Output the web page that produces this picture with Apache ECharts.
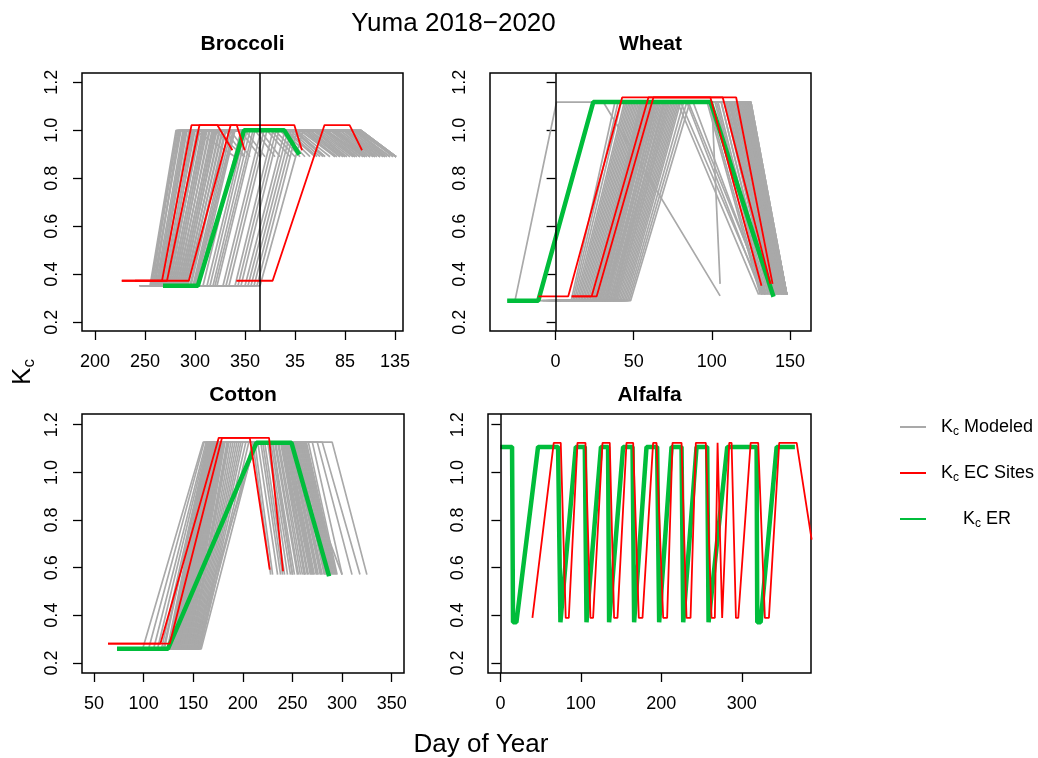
<!DOCTYPE html>
<html><head><meta charset="utf-8">
<script src="https://cdn.jsdelivr.net/npm/echarts@6/dist/echarts.min.js"></script>
<style>html,body{margin:0;padding:0;background:#fff}#c{width:1038px;height:758px}</style>
</head><body><div id="c"></div>
<script>
const FONT = '"Liberation Sans", Arial, Helvetica, sans-serif';

// ---------- Broccoli (x = continuous day; >365 is next year) ----------
const broccoliTicks = [200, 250, 300, 350, 400, 450, 500];
const broccoliKcModeled = [0.352, 1.0, 0.89];        // ini, mid, end
// [plant, dev start, mid start, late start, harvest]
const broccoliModeled = [
  [244,255,281,300,340],[246,260,284,320,349],[245,256,282,330,350],[245,258,286,345,365],
  [248,262,290,360,380],[250,265,292,372,395],[250,266,295,380,405],[252,268,298,390,420],
  [255,270,300,395,425],[255,272,303,400,430],[258,274,305,405,440],[258,276,308,410,445],
  [260,278,310,415,450],[262,280,312,420,455],[262,282,315,425,460],[265,284,318,430,465],
  [265,286,320,435,470],[268,288,322,440,475],[270,290,325,445,480],[270,292,328,450,485],
  [272,295,330,455,490],[275,298,334,460,495],[275,300,338,466,501],[278,303,340,462,501],
  [280,308,346,440,470],[282,312,350,420,450],[285,318,355,425,460],[288,322,360,400,430],
  [290,328,366,410,440],[292,334,372,430,470],[295,340,378,445,480],[298,346,384,455,490],
  [300,350,390,460,501],[305,356,396,450,485],[310,362,402,466,501],[315,365,408,440,475],
  [247,257,283,335,355],[249,259,285,350,370],[251,261,288,365,385],[253,263,289,376,400],
  [254,264,291,385,410],[256,267,294,388,415],[257,269,297,392,422],[259,271,299,398,428],
  [260,273,302,402,435],[261,275,304,407,442],[263,277,307,412,448],[264,279,309,418,452],
  [266,281,311,422,458],[267,283,314,428,462],[269,285,317,432,468],[271,287,319,438,472],
  [272,289,321,442,478],[273,291,324,448,482],[274,293,327,452,488],[276,296,331,458,492],
  [277,299,336,464,498],[279,301,339,466,501],[284,315,352,430,465],[287,320,358,415,445],
  [291,331,369,436,475],[296,343,381,450,485],[302,353,393,458,495],[308,359,399,466,501]
];
const broccoliEC = [
  [[226.8,0.373],[267,0.373],[296.5,1.022],[322.3,1.022],[337.4,0.917]],
  [[226.8,0.373],[272,0.373],[304.5,1.022],[399.3,1.022],[407,0.917]],
  [[240,0.373],[293.8,0.373],[335.7,1.022],[341.7,1.022],[349.7,0.917]],
  [[341.4,0.373],[377.6,0.373],[429.5,1.022],[454.6,1.022],[467,0.917]]
];
const broccoliER = [[268,0.352],[302.8,0.352],[349,1.0],[389.3,1.0],[404.3,0.899]];

// ---------- Wheat ----------
const wheatTicks = [0, 50, 100, 150];
const wheatKcModeled = [0.29, 1.118, 0.315];
const wheatModeled = [
  [-10,10,38,97,131],[-8,12,42,100,133],[-5,14,45,104,135],[-3,16,47,108,137],
  [0,18,49,110,138],[0,20,51,112,139],[2,22,53,113,140],[3,24,55,114,141],
  [5,25,56,115,142],[5,27,58,116,142],[6,28,60,117,143],[8,30,62,118,144],
  [8,31,63,119,144],[10,32,65,120,145],[10,34,66,120,145],[12,35,68,121,146],
  [12,36,70,122,146],[14,38,72,122,147],[15,39,74,123,147],[15,40,75,123,148],
  [16,42,77,124,148],[18,44,79,124,148],[18,46,82,125,148],[20,48,86,125,148],
  [4,26,57,102,134],[6,29,61,106,136],[9,33,64,109,139],[11,37,69,111,141],
  [10,30,60,80,133],[12,35,70,85,135],[10,32,62,78,130],[14,38,72,88,134],[8,28,58,84,132],
  [-9,11,40,98,132],[-6,13,44,103,134],[-4,15,46,106,136],[-1,17,48,109,137],
  [1,19,50,111,138],[1,21,52,112,139],[3,23,54,113,140],[4,24,55,115,141],
  [6,26,57,116,142],[7,28,59,117,143],[7,29,61,118,143],[9,31,63,119,144],
  [9,33,64,120,145],[11,33,66,121,145],[13,35,67,121,146],[13,37,69,122,146],
  [14,37,71,122,147],[16,39,73,123,147],[17,41,76,123,148],[17,43,78,124,148],
  [19,45,80,124,148],[20,47,84,125,148]
];
const wheatModeledOther = [
  [[-31,0.29],[-26,0.29],[0.6,1.118],[30.5,1.118],[105.3,0.31]],
  [[5,0.29],[25,0.29],[55,1.118],[100,1.118],[105.3,0.36]]
];
const wheatEC = [
  [[-11,0.308],[8.1,0.308],[42.6,1.137],[99.1,1.137],[131.8,0.352]],
  [[10.3,0.308],[23.1,0.308],[59.4,1.137],[107,1.137],[137.5,0.36]],
  [[10.3,0.308],[26.3,0.308],[62.6,1.137],[115.6,1.137],[138.9,0.36]]
];
const wheatER = [[-31,0.29],[-11.1,0.29],[24.1,1.118],[99.2,1.118],[139.5,0.306]];

// ---------- Cotton ----------
const cottonTicks = [50, 100, 150, 200, 250, 300, 350];
const cottonKcModeled = [0.259, 1.127, 0.571];
const cottonModeled = [
  [75,99,160,210,228],[80,110,163,215,235],[85,118,165,220,240],[88,124,166,225,245],
  [90,126,168,228,250],[92,128,169,232,255],[95,130,170,235,258],[95,132,171,238,262],
  [98,134,172,240,265],[100,136,173,242,268],[100,138,175,244,270],[102,140,176,246,272],
  [104,142,178,248,275],[105,144,180,250,278],[106,146,182,252,280],[108,148,185,254,283],
  [110,150,188,256,286],[110,152,192,258,288],[112,154,196,260,290],[114,156,200,262,292],
  [115,157,206,264,294],[116,158,212,266,295],[118,150,213,230,250],[120,155,210,240,262],
  [85,120,166,270,300],[90,125,168,290,325],[95,130,172,280,318],[100,135,175,275,310],
  [92,127,170,250,300],
  [78,105,161,212,230],[82,114,164,218,238],[86,121,165,222,242],[89,125,167,226,248],
  [91,127,168,230,252],[93,129,169,233,256],[96,131,170,236,260],[97,133,172,239,263],
  [99,135,173,241,266],[101,137,174,243,269],[101,139,175,245,271],[103,141,177,247,274],
  [104,143,179,249,276],[106,145,181,251,279],[107,147,184,253,282],[109,149,186,255,284],
  [111,151,190,257,287],[113,153,194,259,289],[114,155,198,261,291],[115,156,203,263,293]
];
const cottonEC = [
  [[64.1,0.281],[116.9,0.281],[175.7,1.145],[207,1.145],[227.1,0.592]],
  [[64.1,0.281],[126.3,0.281],[179,1.145],[226.4,1.145],[240.5,0.585]]
];
const cottonER = [[73.2,0.26],[124.6,0.26],[213.7,1.124],[249,1.124],[286.9,0.564]];

// ---------- Alfalfa ----------
const alfalfaTicks = [0, 100, 200, 300];
const alfalfaEC = [[39.8,0.389],[66.3,1.124],[75,1.124],[81.2,0.389],[85,0.389],[95.8,1.124],[105.7,1.124],
  [111.9,0.389],[115.2,0.389],[126.9,1.124],[135.9,1.124],[141.3,0.389],[145.5,0.389],[156.7,1.124],
  [165,1.124],[172,0.389],[176.6,0.389],[189.8,1.124],[194,1.124],[202.3,0.389],[207.2,0.389],
  [213.9,1.124],[225.1,1.124],[231.3,0.389],[236.3,0.389],[242.9,1.124],[255.3,1.124],[262.4,0.389],
  [266.5,0.389],[269.9,1.124],[271.9,1.124],[275.6,0.389],[277.7,0.389],[284.4,1.124],[287.3,1.124],
  [292.7,0.389],[295.6,0.389],[311,1.124],[320.4,1.124],[328.7,0.389],[333.7,0.389],[346.5,1.124],
  [368.2,1.124],[386.8,0.718]];
const alfalfaER = [[0,1.107],[14.5,1.107],[15.7,0.371],[19.9,0.371],[46.8,1.107],[71.7,1.107],[74.6,0.371],
  [93.7,1.107],[104.9,1.107],[107,0.371],[125,1.107],[133.8,1.107],[135.1,0.371],[152.5,1.107],
  [164.2,1.107],[166.2,0.371],[181.6,1.107],[194.8,1.107],[197.3,0.371],[212.7,1.107],[225.1,1.107],
  [227.2,0.371],[243.8,1.107],[257,1.107],[258.7,0.371],[281.9,1.107],[318.4,1.107],[319.2,0.371],
  [323.4,0.371],[343.3,1.107],[366,1.107]];

// ---------- build ----------
const GRAY = '#A9A9A9', RED = '#FF0000', GREEN = '#00BD3B';
function kcCurve(d, kc) {
  return [[d[0],kc[0]],[d[1],kc[0]],[d[2],kc[1]],[d[3],kc[1]],[d[4],kc[2]]];
}
function lineSeries(gi, name, color, width, data, z) {
  return {type:'line', name, xAxisIndex:gi, yAxisIndex:gi, data, symbol:'none', showSymbol:false,
    silent:true, clip:true, z, color, lineStyle:{color, width}};
}
const series = [];
const panels = [
  {modeled: broccoliModeled.map(d => kcCurve(d, broccoliKcModeled)), ec: broccoliEC, er: broccoliER, vline: 365},
  {modeled: wheatModeled.map(d => kcCurve(d, wheatKcModeled)).concat(wheatModeledOther), ec: wheatEC, er: wheatER, vline: 0},
  {modeled: cottonModeled.map(d => kcCurve(d, cottonKcModeled)), ec: cottonEC, er: cottonER, vline: null},
  {modeled: [], ec: [alfalfaEC], er: alfalfaER, vline: 0}
];
panels.forEach((p, gi) => {
  p.modeled.forEach(d => series.push(lineSeries(gi, 'Modeled', GRAY, 1.7, d, 2)));
  if (p.modeled.length === 0) series.push(lineSeries(gi, 'Modeled', GRAY, 1.7, [], 2));
  const g = lineSeries(gi, 'ER', GREEN, 4.5, p.er, 3);
  if (p.vline !== null) {
    g.markLine = {silent:true, symbol:['none','none'], label:{show:false}, animation:false,
      lineStyle:{color:'#000', width:1.5, type:'solid'}, emphasis:{disabled:true},
      data:[{xAxis:p.vline}]};
  }
  series.push(g);
  p.ec.forEach(d => series.push(lineSeries(gi, 'EC Sites', RED, 1.8, d, 4)));
});

const grids = [
  {left:82, top:73, width:321, height:258},
  {left:490, top:73, width:321, height:258},
  {left:82, top:414, width:322, height:259},
  {left:488, top:414, width:323, height:259}
].map(g => Object.assign({show:true, borderColor:'#000', borderWidth:1.5, backgroundColor:'transparent', containLabel:false}, g));

function xAx(gi, min, max, ticks, fmt) {
  return {type:'value', gridIndex:gi, min, max, axisLine:{show:false}, splitLine:{show:false},
    axisTick:{show:true, length:9, customValues:ticks, lineStyle:{color:'#000', width:1.3}},
    axisLabel:{customValues:ticks, formatter:fmt || (v => String(v)), color:'#000', fontSize:18, fontFamily:FONT, margin:22}};
}
const yTicks = [0.2, 0.4, 0.6, 0.8, 1.0, 1.2];
function yAx(gi, min, max) {
  return {type:'value', gridIndex:gi, min, max, axisLine:{show:false}, splitLine:{show:false},
    axisTick:{show:true, length:9, customValues:yTicks, lineStyle:{color:'#000', width:1.3}},
    axisLabel:{customValues:yTicks, formatter:v => v.toFixed(1), rotate:90, color:'#000', fontSize:18, fontFamily:FONT, margin:21}};
}

const rich = {
  k:{fontSize:18, lineHeight:22, fontFamily:FONT, color:'#000', padding:[0,0,0,10]},
  k2:{fontSize:18, lineHeight:22, fontFamily:FONT, color:'#000', padding:[0,0,0,32]},
  s:{fontSize:12, lineHeight:8, verticalAlign:'bottom', fontFamily:FONT, color:'#000'},
  t:{fontSize:18, lineHeight:22, fontFamily:FONT, color:'#000'}
};

const chart = echarts.init(document.getElementById('c'), null, {renderer:'canvas'});
chart.setOption({
  animation:false,
  backgroundColor:'#fff',
  grid: grids,
  xAxis: [
    xAx(0, 187, 508, broccoliTicks, v => String(v > 365 ? v - 365 : v)),
    xAx(1, -42, 163.5, wheatTicks),
    xAx(2, 37.9, 362.4, cottonTicks),
    xAx(3, -15.4, 386, alfalfaTicks)
  ],
  yAxis: [yAx(0, 0.1635, 1.239), yAx(1, 0.1635, 1.239), yAx(2, 0.158, 1.245), yAx(3, 0.158, 1.245)],
  legend: {
    data:['Modeled','EC Sites','ER'], orient:'vertical', left:895, top:413, itemGap:26,
    icon:'rect', itemWidth:26, itemHeight:2, selectedMode:false,
    formatter: n => n === 'ER' ? '{k2|K}{s|c}{t| ER}' : '{k|K}{s|c}{t| ' + n + '}',
    textStyle:{rich, color:'#000'}
  },
  graphic: [
    {type:'text', x:453.5, y:24, silent:true, style:{text:'Yuma 2018\u22122020', fontSize:26, fontFamily:FONT, fill:'#000', align:'center', verticalAlign:'middle'}},
    {type:'text', x:242.5, y:44, silent:true, style:{text:'Broccoli', fontSize:21, fontWeight:'bold', fontFamily:FONT, fill:'#000', align:'center', verticalAlign:'middle'}},
    {type:'text', x:650.5, y:44, silent:true, style:{text:'Wheat', fontSize:21, fontWeight:'bold', fontFamily:FONT, fill:'#000', align:'center', verticalAlign:'middle'}},
    {type:'text', x:243, y:395, silent:true, style:{text:'Cotton', fontSize:21, fontWeight:'bold', fontFamily:FONT, fill:'#000', align:'center', verticalAlign:'middle'}},
    {type:'text', x:649.5, y:395, silent:true, style:{text:'Alfalfa', fontSize:21, fontWeight:'bold', fontFamily:FONT, fill:'#000', align:'center', verticalAlign:'middle'}},
    {type:'text', x:481, y:745, silent:true, style:{text:'Day of Year', fontSize:26, fontFamily:FONT, fill:'#000', align:'center', verticalAlign:'middle'}},
    {type:'text', x:23, y:372, rotation:Math.PI/2, silent:true, style:{text:'{k|K}{s|c}', align:'center', verticalAlign:'middle',
      rich:{k:{fontSize:26, lineHeight:30, fontFamily:FONT, fill:'#000'}, s:{fontSize:17, lineHeight:10, verticalAlign:'bottom', fontFamily:FONT, fill:'#000'}}}}
  ],
  series
});
</script></body></html>
